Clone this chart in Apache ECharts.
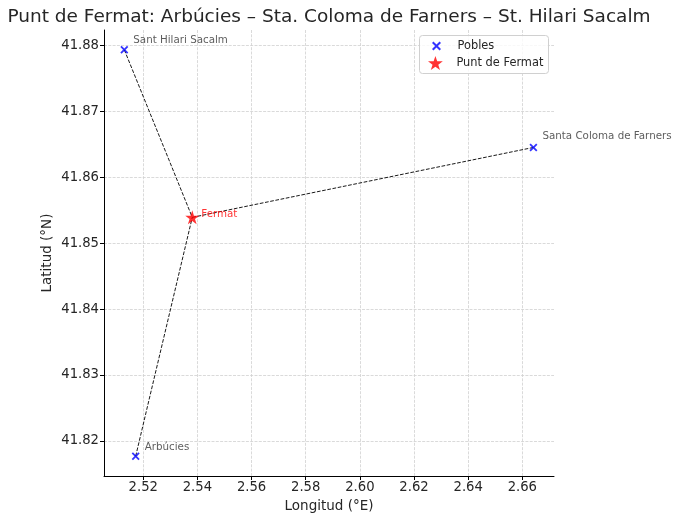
<!DOCTYPE html>
<html><head><meta charset="utf-8">
<script src="https://cdn.jsdelivr.net/npm/echarts@6/dist/echarts.min.js"></script>
<style>html,body{margin:0;padding:0;background:#fff}#c{width:680px;height:521px}</style>
</head><body><div id="c"></div>
<script>
const towns = ['Sant Hilari Sacalm', 'Santa Coloma de Farners', 'Arbúcies'];
const townLon = [2.5130, 2.6641, 2.5172];
const townLat = [41.8793, 41.8645, 41.8177];
const fermatLon = 2.5381;
const fermatLat = 41.8539;
const xTicks = [2.52, 2.54, 2.56, 2.58, 2.60, 2.62, 2.64, 2.66];
const yTicks = [41.82, 41.83, 41.84, 41.85, 41.86, 41.87, 41.88];
const labelOffsets = [[0,-9],[0,-11],[0,-9]];

const FONT = 'DejaVu Sans';
const TXT = '#262626';
const xPath = 'path://M1.6,0 L5,3.4 L8.4,0 L10,1.6 L6.6,5 L10,8.4 L8.4,10 L5,6.6 L1.6,10 L0,8.4 L3.4,5 L0,1.6 Z';
const starPath = 'path://M50,0 L61.8,35.1 L99,35.1 L69,57.3 L80.4,92.7 L50,71 L19.6,92.7 L31,57.3 L1,35.1 L38.2,35.1 Z';

const lineSeries = towns.map((t, i) => ({
  type: 'line', name: 'seg' + i, silent: true, symbol: 'none', z: 1,
  data: [[townLon[i], townLat[i]], [fermatLon, fermatLat]],
  lineStyle: { color: '#000', width: 0.9, type: [3.7, 1.6] }
}));

const legendText = { fontFamily: FONT, fontSize: 11.4, color: TXT, lineHeight: 14 };

const option = {
  animation: false,
  backgroundColor: '#fff',
  textStyle: { fontFamily: FONT },
  title: {
    text: 'Punt de Fermat: Arbúcies – Sta. Coloma de Farners – St. Hilari Sacalm',
    left: 324, textAlign: 'center', top: 3,
    textStyle: { fontFamily: FONT, fontSize: 18.5, fontWeight: 'normal', color: TXT }
  },
  graphic: [{
    type: 'rect', left: 419, top: 35, z: 100,
    shape: { width: 129, height: 38, r: 3 },
    style: { fill: 'rgba(255,255,255,0.8)', stroke: '#d0d0d0', lineWidth: 1 }
  }],
  legend: [
    {
      left: 432, top: 39, padding: 0, z: 110,
      data: [{ name: 'Pobles', icon: xPath }],
      itemWidth: 32, itemHeight: 9,
      textStyle: legendText
    },
    {
      left: 428, top: 56, padding: 0, z: 110,
      data: [{ name: 'Punt de Fermat', icon: starPath }],
      itemWidth: 32, itemHeight: 14,
      textStyle: legendText
    }
  ],
  grid: { left: 104, right: 126, top: 30, bottom: 45, containLabel: false },
  xAxis: {
    type: 'value', min: 2.5055, max: 2.6717,
    name: 'Longitud (°E)', nameLocation: 'middle', nameGap: 23, nameMoveOverlap: false,
    nameTextStyle: { fontFamily: FONT, fontSize: 13.5, color: TXT },
    axisLine: { show: true, onZero: false, lineStyle: { color: '#000', width: 1 } },
    axisTick: { show: true, length: 4, customValues: xTicks, lineStyle: { color: '#000' } },
    axisLabel: { customValues: xTicks, formatter: v => v.toFixed(2), fontFamily: FONT, fontSize: 13.2, color: TXT, margin: 5 },
    splitLine: { show: true, lineStyle: { color: '#d0d0d0', width: 0.8, type: [3, 1.3] } }
  },
  yAxis: {
    type: 'value', min: 41.8147, max: 41.8823,
    name: 'Latitud (°N)', nameLocation: 'middle', nameGap: 50, nameMoveOverlap: false,
    nameTextStyle: { fontFamily: FONT, fontSize: 13.5, color: TXT },
    axisLine: { show: true, onZero: false, lineStyle: { color: '#000', width: 1 } },
    axisTick: { show: true, length: 4, customValues: yTicks, lineStyle: { color: '#000' } },
    axisLabel: { customValues: yTicks, formatter: v => v.toFixed(2), fontFamily: FONT, fontSize: 13.2, color: TXT, margin: 5 },
    splitLine: { show: true, lineStyle: { color: '#d0d0d0', width: 0.8, type: [3, 1.3] } }
  },
  series: [
    ...lineSeries,
    {
      type: 'scatter', name: 'Pobles', z: 3,
      symbol: xPath, symbolSize: 8,
      itemStyle: { color: '#0000ff' },
      data: towns.map((t, i) => ({
        value: [townLon[i], townLat[i]], name: t,
        label: { show: true, position: 'right', distance: 5, offset: labelOffsets[i],
          formatter: t, fontFamily: FONT, fontSize: 10.3, color: '#333' }
      }))
    },
    {
      type: 'scatter', name: 'Punt de Fermat', z: 4,
      symbol: starPath, symbolSize: 14,
      itemStyle: { color: '#ff0000' },
      data: [{ value: [fermatLon, fermatLat], name: 'Fermat',
        label: { show: true, position: 'right', distance: 2, offset: [0, -3],
          formatter: 'Fermat', fontFamily: FONT, fontSize: 10.3, color: '#ff0000' } }]
    }
  ]
};
const chart = echarts.init(document.getElementById('c'), null, { renderer: 'canvas' });
chart.setOption(option);
</script></body></html>
